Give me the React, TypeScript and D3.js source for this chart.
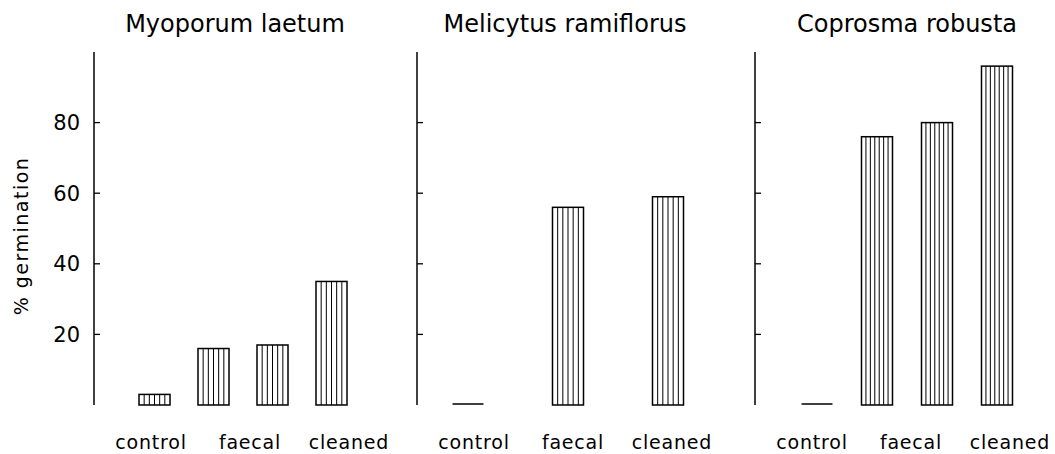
import React from "react";
import * as d3 from "d3";

// % germination per treatment
const species = ["Myoporum laetum", "Melicytus ramiflorus", "Coprosma robusta"];
const treatments = ["control", "faecal", "cleaned"];
const myoporum = [3, 16, 17, 35];
const melicytus = [0, 56, 59];
const coprosma = [0, 76, 80, 96];
const yTicks = [20, 40, 60, 80];

const width = 1055,
  height = 454;

// layout of each panel (axis position, bar spacing, hatch lines per bar)
const panels = [
  { title: species[0], values: myoporum, axisX: 94, first: 60.5, step: 59, titleX: 235, hatch: 5 },
  { title: species[1], values: melicytus, axisX: 417, first: 51, step: 100, titleX: 565, hatch: 5 },
  { title: species[2], values: coprosma, axisX: 755, first: 62, step: 60, titleX: 907, hatch: 6 },
];

const barW = 31;
const font = "'DejaVu Sans', sans-serif";

const y = d3.scaleLinear().domain([0, 100]).range([405, 52]);

const App = () => {
  return (
    <svg
      width={width}
      height={height}
      style={{ position: "absolute", left: 0, top: 0, background: "#fff" }}
      fontFamily={font}
    >
      {/* y axis title */}
      <text
        transform={"translate(28," + 236 + ") rotate(-90)"}
        textAnchor="middle"
        fontSize={19}
        letterSpacing={1.5}
      >
        % germination
      </text>

      {panels.map((p, pi) => {
        const x = d3
          .scalePoint<number>()
          .domain(d3.range(p.values.length))
          .range([p.axisX + p.first, p.axisX + p.first + p.step * (p.values.length - 1)]);
        const xl = d3
          .scalePoint<string>()
          .domain(treatments)
          .range([p.axisX + 57, p.axisX + 57 + 198]);

        return (
          <g key={pi}>
            <text x={p.titleX} y={32} textAnchor="middle" fontSize={24}>
              {p.title}
            </text>

            <line x1={p.axisX} x2={p.axisX} y1={y(0)} y2={y(100)} stroke="#000" strokeWidth={1.5} />
            {yTicks.map((t) => (
              <g key={t}>
                <line x1={p.axisX} x2={p.axisX + 6} y1={y(t)} y2={y(t)} stroke="#000" strokeWidth={1.3} />
                {pi === 0 && (
                  <text x={p.axisX - 14} y={y(t)} dy="0.36em" textAnchor="end" fontSize={21}>
                    {t}
                  </text>
                )}
              </g>
            ))}

            {p.values.map((v, i) => {
              const x0 = x(i)! - barW / 2;
              const sp = barW / (p.hatch + 1);
              if (v === 0) {
                return (
                  <line key={i} x1={x0} x2={x0 + barW} y1={y(0) - 1} y2={y(0) - 1} stroke="#000" strokeWidth={1.5} />
                );
              }
              return (
                <g key={i}>
                  <rect
                    x={x0}
                    y={y(v)}
                    width={barW}
                    height={y(0) - y(v)}
                    fill="#fff"
                    stroke="#000"
                    strokeWidth={1.5}
                  />
                  {d3.range(1, p.hatch + 1).map((k) => (
                    <line
                      key={k}
                      x1={x0 + k * sp}
                      x2={x0 + k * sp}
                      y1={y(v)}
                      y2={y(0)}
                      stroke="#000"
                      strokeWidth={1}
                    />
                  ))}
                </g>
              );
            })}

            {treatments.map((t) => (
              <text key={t} x={xl(t)} y={449} textAnchor="middle" fontSize={19} letterSpacing={0.8}>
                {t}
              </text>
            ))}
          </g>
        );
      })}
    </svg>
  );
};

export default App;
